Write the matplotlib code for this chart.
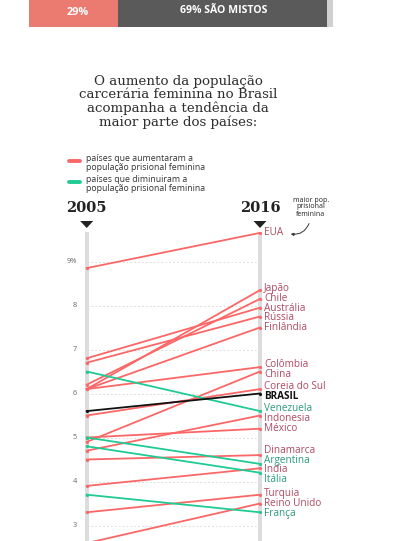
import matplotlib
matplotlib.use("Agg")
import matplotlib.pyplot as plt
from matplotlib.patches import Rectangle, Polygon, FancyArrowPatch

# --- data: share of women in prison population (%) ---
countries = ["EUA", "Japão", "Chile", "Austrália", "Rússia", "Finlândia",
             "Colômbia", "China", "Coreia do Sul", "BRASIL", "Venezuela",
             "Indonesia", "México", "Dinamarca", "Argentina", "India",
             "Itália", "Turquia", "Reino Unido", "França"]
val_2005 = [8.85, 6.1, 6.2, 6.8, 6.7, 6.1,
            6.1, 4.9, 5.5, 5.6, 6.5,
            4.7, 5.0, 4.5, 5.0, 3.9,
            4.8, 3.3, 2.6, 3.7]
val_2016 = [9.65, 8.35, 8.15, 7.95, 7.75, 7.5,
            6.6, 6.5, 6.1, 6.0, 5.6,
            5.5, 5.2, 4.6, 4.4, 4.3,
            4.2, 3.7, 3.5, 3.3]
trend = ["up", "up", "up", "up", "up", "up",
         "up", "up", "up", "br", "down",
         "up", "up", "up", "down", "up",
         "down", "up", "up", "down"]
years = [2005, 2016]
y_ticks = [3, 4, 5, 6, 7, 8, 9]
bar_parts = ["29%", "69% SÃO MISTOS"]

title = ("O aumento da população\ncarcerária feminina no Brasil\n"
         "acompanha a tendência da\nmaior parte dos países:")

RED = "#fb6767"
GREEN = "#1fcb93"
line_col = {"up": RED, "down": GREEN, "br": "#111111"}
text_col = {"up": "#b04a63", "down": "#2a9a7c", "br": "#111111"}

W, H = 398, 541
fig = plt.figure(figsize=(W / 100, H / 100), dpi=100)

# pixel-space axes for decorations
deco = fig.add_axes([0, 0, 1, 1])
deco.set_xlim(0, W)
deco.set_ylim(H, 0)
deco.axis("off")

# data axes (same area, data coordinates)
px_year = 173.3 / 11
x0, y0, px_unit = 86.7, 393.5, 44.0
ax = fig.add_axes([0, 0, 1, 1], facecolor="none")
ax.set_xlim(2005 - x0 / px_year, 2005 + (W - x0) / px_year)
ax.set_ylim(6 - (H - y0) / px_unit, 6 + y0 / px_unit)
ax.axis("off")

sans = ["Open Sans", "DejaVu Sans"]
serif = ["DejaVu Serif"]

# top stacked bar
deco.add_patch(Rectangle((29, 0), 89, 27, color="#eb7b70", lw=0))
deco.add_patch(Rectangle((118, 0), 209, 27, color="#5a5a5a", lw=0))
deco.add_patch(Rectangle((327, 0), 6, 27, color="#d0d0d0", lw=0))
deco.text(78, 12.5, bar_parts[0], color="white", fontsize=7.8, fontweight="bold",
          ha="center", va="center", family=sans)
deco.text(224, 10.5, bar_parts[1], color="white", fontsize=7.6, fontweight="bold",
          ha="center", va="center", family=sans)

# title
deco.text(178, 102, title, fontsize=9.6, color="#2e2e2e", ha="center",
          va="center", linespacing=1.02, family=serif)

# legend
deco.plot([69, 80], [161, 161], color=RED, lw=2.8, solid_capstyle="round")
deco.plot([69, 80], [182, 182], color=GREEN, lw=2.8, solid_capstyle="round")
deco.text(86, 163, "países que aumentaram a\npopulação prisional feminina",
          fontsize=6.3, color="#333333", va="center", linespacing=0.9, family=sans)
deco.text(86, 184, "países que diminuiram a\npopulação prisional feminina",
          fontsize=6.3, color="#333333", va="center", linespacing=0.9, family=sans)

# year headers, triangles, gray rails
for yr in years:
    xp = x0 + (yr - 2005) * px_year
    deco.text(xp, 208, str(yr), fontsize=10.5, fontweight="bold", ha="center",
              va="center", color="#222222", family=serif)
    deco.add_patch(Polygon([[xp - 6.5, 221], [xp + 6.5, 221], [xp, 228]],
                           closed=True, color="#222222", lw=0))
    deco.add_patch(Rectangle((xp - 2, 232), 4, H - 232, color="#dcdcdc", lw=0))

# gridlines + tick labels
for t in y_ticks:
    ax.plot(years, [t, t], color="#dddddd", lw=0.7, ls=(0, (2, 2)), zorder=1)
    lab = f"{t}%" if t == 9 else str(t)
    ax.text(2005 - 9.5 / px_year, t, lab, fontsize=5.3, color="#666666",
            ha="right", va="center", family=sans)

# slope lines
for name, a, b, tr in zip(countries, val_2005, val_2016, trend):
    z = 4 if tr == "br" else 3
    ax.plot(years, [a, b], color=line_col[tr], lw=1.3, zorder=z,
            marker="o", markersize=2.3, markeredgewidth=0)

# right-hand labels, spread so they don't overlap
gap = 9.6 / px_unit
order = sorted(range(len(countries)), key=lambda i: -val_2016[i])
pos = {i: val_2016[i] for i in order}
for _ in range(200):
    for k in range(1, len(order)):
        i, j = order[k - 1], order[k]
        d = pos[i] - pos[j]
        if d < gap:
            shift = (gap - d) / 2
            pos[i] += shift
            pos[j] -= shift
for i, name in enumerate(countries):
    tr = trend[i]
    ax.text(2016 + 4 / px_year, pos[i], name, fontsize=7.2, color=text_col[tr],
            ha="left", va="center", family=sans,
            fontweight="bold" if tr == "br" else "normal")

# annotation for EUA
deco.text(311, 207, "maior pop.\nprisional\nfeminina", fontsize=5, ha="center",
          va="center", color="#222222", linespacing=1.0, family=sans)
deco.add_patch(FancyArrowPatch((310, 221), (288, 233.5),
                               connectionstyle="arc3,rad=-0.45",
                               arrowstyle="-|>", mutation_scale=4,
                               color="#333333", lw=0.7))

fig.savefig("out.png", dpi=100)
